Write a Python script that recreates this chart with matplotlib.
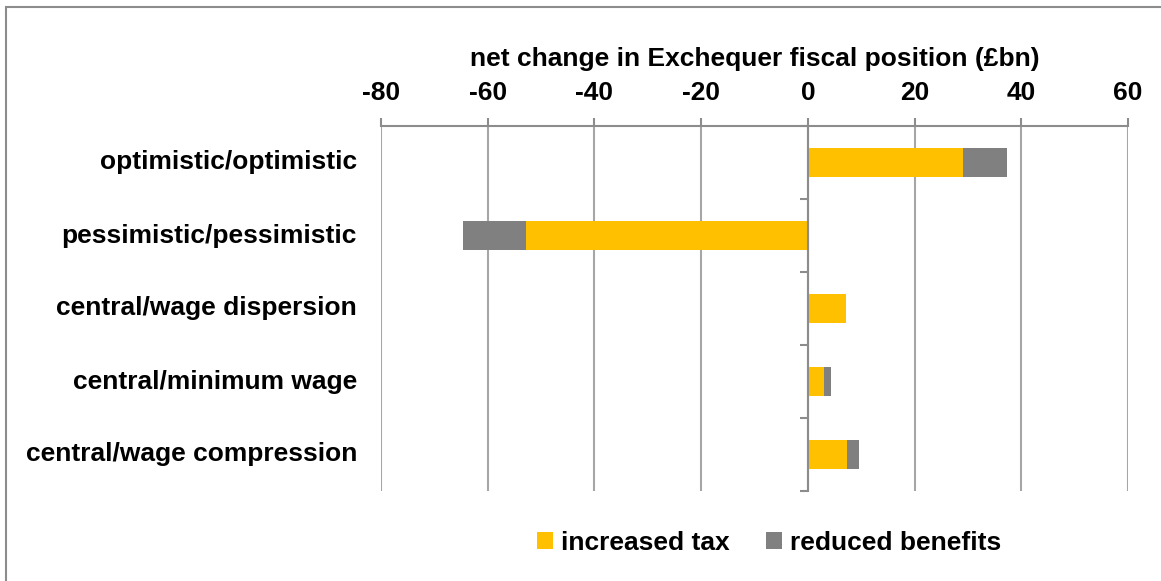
import matplotlib.pyplot as plt
import numpy as np
from matplotlib.patches import Rectangle

plt.rcParams['font.family'] = ['Liberation Sans', 'DejaVu Sans']
plt.rcParams['font.weight'] = 'bold'
plt.rcParams['axes.unicode_minus'] = False

categories = ['optimistic/optimistic', 'pessimistic/pessimistic', 'central/wage dispersion',
              'central/minimum wage', 'central/wage compression']
increased_tax = [29.0, -52.8, 7.1, 3.1, 7.4]
reduced_benefits = [8.3, -11.9, 0.0, 1.2, 2.2]
xticks = [-80, -60, -40, -20, 0, 20, 40, 60]

yellow = '#FFC000'
grey = '#808080'
axis_col = '#8C8C8C'

fig = plt.figure(figsize=(11.61, 5.81), dpi=100)
# chart area border
fig.patches.append(Rectangle((5.5 / 1161, -0.1), 1.2, (581 - 6.5) / 581 + 0.1,
                             transform=fig.transFigure, fill=False,
                             edgecolor='#8C8C8C', linewidth=1.5))
ax = fig.add_axes([381 / 1161, 90 / 581, 747 / 1161, 365 / 581])

y = np.arange(len(categories))
ax.barh(y, increased_tax, height=0.4, color=yellow, label='increased tax', zorder=3)
ax.barh(y, reduced_benefits, left=increased_tax, height=0.4, color=grey,
        label='reduced benefits', zorder=3)

ax.set_xlim(-80, 60)
ax.set_ylim(len(categories) - 0.5, -0.5)
ax.set_xticks(xticks)
ax.xaxis.tick_top()
ax.xaxis.set_label_position('top')
ax.set_xlabel('net change in Exchequer fiscal position (£bn)', fontsize=19,
              fontweight='bold', labelpad=11)
ax.tick_params(axis='x', direction='out', length=6, width=1.5, color=axis_col,
               labelsize=19, pad=9)
ax.grid(True, axis='x', color='#A6A6A6', linewidth=1.5, zorder=0)

for s in ['right', 'bottom']:
    ax.spines[s].set_visible(False)
ax.spines['top'].set_color(axis_col)
ax.spines['top'].set_linewidth(1.5)
ax.spines['left'].set_position(('data', 0))
ax.spines['left'].set_color(axis_col)
ax.spines['left'].set_linewidth(1.5)
ax.spines['left'].set_zorder(4)

ax.set_yticks(np.arange(len(categories) + 1) - 0.5)
ax.set_yticklabels([])
ax.tick_params(axis='y', direction='out', length=6, width=1.5, color=axis_col)

for i, c in enumerate(categories):
    ax.text(-0.032, i, c, transform=ax.get_yaxis_transform(), ha='right',
            va='center', fontsize=19, fontweight='bold')

fig.legend(loc='center', bbox_to_anchor=(769 / 1161, 38 / 581), ncol=2,
           frameon=False, fontsize=19, handlelength=0.6, handleheight=0.6,
           handletextpad=0.3, columnspacing=1.4)

fig.savefig('out.png', dpi=100)
